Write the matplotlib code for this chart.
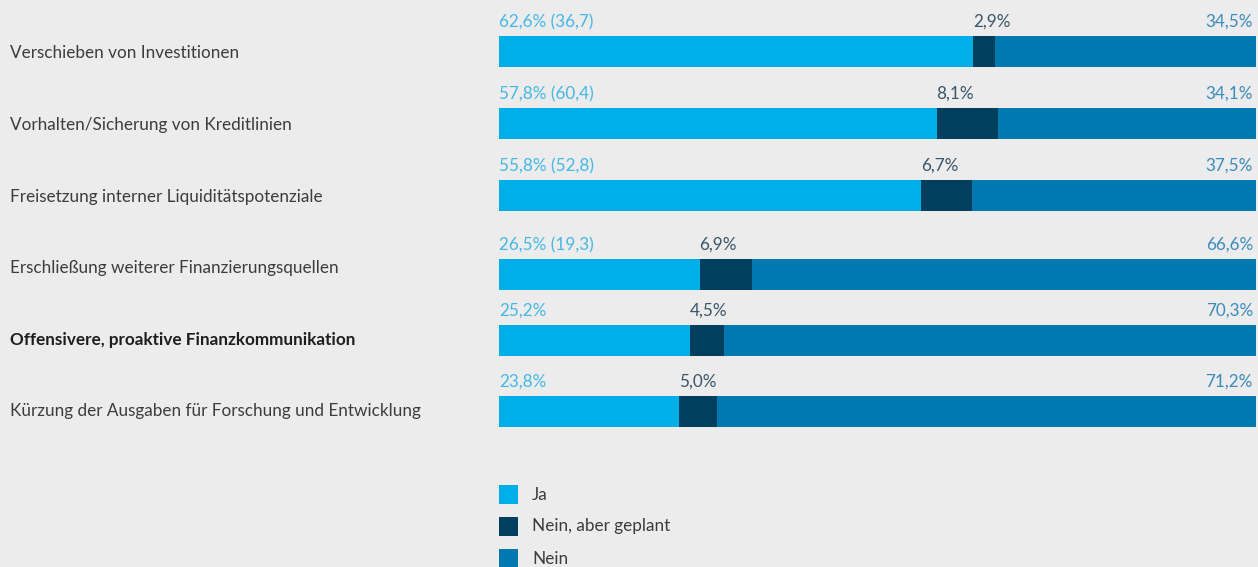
import matplotlib.pyplot as plt
from matplotlib.patches import Rectangle
from matplotlib.transforms import blended_transform_factory

categories = [
    "Verschieben von Investitionen",
    "Vorhalten/Sicherung von Kreditlinien",
    "Freisetzung interner Liquiditätspotenziale",
    "Erschließung weiterer Finanzierungsquellen",
    "Offensivere, proaktive Finanzkommunikation",
    "Kürzung der Ausgaben für Forschung und Entwicklung",
]
ja = [62.6, 57.8, 55.8, 26.5, 25.2, 23.8]
ja_prev = [36.7, 60.4, 52.8, 19.3, None, None]
geplant = [2.9, 8.1, 6.7, 6.9, 4.5, 5.0]
nein = [34.5, 34.1, 37.5, 66.6, 70.3, 71.2]
series_names = ["Ja", "Nein, aber geplant", "Nein"]
highlight = "Offensivere, proaktive Finanzkommunikation"

BG = "#ececec"
COLORS = ["#00aee8", "#003f5e", "#0079b0"]
LABEL_COLORS = ["#45b8e6", "#3b5668", "#3a8cbd"]
TEXT = "#3c3c3c"

W, H, DPI = 1258, 567, 100
# row centres and label baselines in pixels from the top
row_y = [51.5, 123.5, 195.5, 274.5, 340.5, 411.5]
cat_y = [53, 125, 197, 268, 340, 411]
bar_h = 31

plt.rcParams["font.family"] = ["Lato", "DejaVu Sans"]

fig = plt.figure(figsize=(W / DPI, H / DPI), dpi=DPI, facecolor=BG)
ax = fig.add_axes([499 / W, 0, 757 / W, 1])
ax.set_facecolor(BG)
ax.set_xlim(0, 100)
ax.set_ylim(H, 0)
ax.axis("off")

left2 = [a for a in ja]
left3 = [a + b for a, b in zip(ja, geplant)]
ax.barh(row_y, ja, height=bar_h, color=COLORS[0], linewidth=0)
ax.barh(row_y, geplant, left=left2, height=bar_h, color=COLORS[1], linewidth=0)
ax.barh(row_y, nein, left=left3, height=bar_h, color=COLORS[2], linewidth=0)

fs = 12.3
for i, y in enumerate(row_y):
    base = y - bar_h / 2 - 9
    txt = f"{ja[i]:.1f}%".replace(".", ",")
    if ja_prev[i] is not None:
        txt += f" ({ja_prev[i]:.1f})".replace(".", ",")
    ax.text(0, base, txt, color=LABEL_COLORS[0], fontsize=fs, va="baseline", ha="left")
    ax.text(left2[i], base, f"{geplant[i]:.1f}%".replace(".", ","),
            color=LABEL_COLORS[1], fontsize=fs, va="baseline", ha="left")
    ax.text(100 - 0.4, base, f"{nein[i]:.1f}%".replace(".", ","),
            color=LABEL_COLORS[2], fontsize=fs, va="baseline", ha="right")

trans = blended_transform_factory(fig.transFigure, ax.transData)
for name, y in zip(categories, cat_y):
    bold = name == highlight
    ax.text(10 / W, y, name, transform=trans, fontsize=fs, va="center", ha="left",
            color="#1e1e1e" if bold else TEXT, fontweight="bold" if bold else "normal",
            clip_on=False)

# legend drawn in figure pixels
for k, name in enumerate(series_names):
    top = 485 + k * 32
    fig.patches.append(Rectangle((499, H - top - 19), 19, 19, transform=None,
                                 facecolor=COLORS[k], edgecolor="none"))
    fig.text(532 / W, 1 - (top + 9.5) / H, name, fontsize=fs, color=TEXT,
             va="center", ha="left")

fig.savefig("out.png", dpi=DPI, facecolor=BG)
